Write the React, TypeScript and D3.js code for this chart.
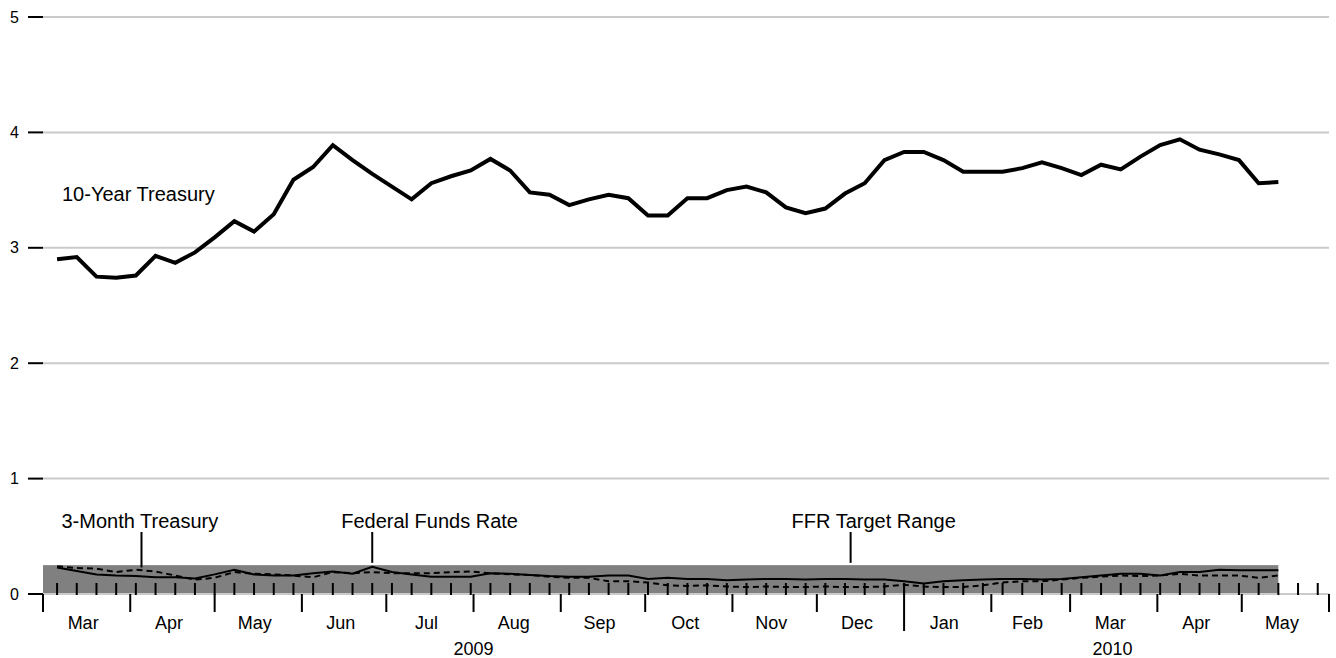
import React, { useEffect, useRef } from 'react';
import * as d3 from 'd3';

// weekly observations, Fridays from 6 Mar 2009
const firstWeek = new Date(2009, 2, 6);

const tenYear = [
  2.90, 2.92, 2.75, 2.74, 2.76, 2.93, 2.87, 2.96, 3.09, 3.23,
  3.14, 3.29, 3.59, 3.70, 3.89, 3.76, 3.64, 3.53, 3.42, 3.56,
  3.62, 3.67, 3.77, 3.67, 3.48, 3.46, 3.37, 3.42, 3.46, 3.43,
  3.28, 3.28, 3.43, 3.43, 3.50, 3.53, 3.48, 3.35, 3.30, 3.34,
  3.47, 3.56, 3.76, 3.83, 3.83, 3.76, 3.66, 3.66, 3.66, 3.69,
  3.74, 3.69, 3.63, 3.72, 3.68, 3.79, 3.89, 3.94, 3.85, 3.81,
  3.76, 3.56, 3.57
];

const fedFunds = [
  0.23, 0.20, 0.17, 0.16, 0.155, 0.145, 0.145, 0.135, 0.17, 0.21,
  0.17, 0.16, 0.16, 0.18, 0.195, 0.175, 0.235, 0.19, 0.17, 0.15,
  0.15, 0.15, 0.18, 0.175, 0.165, 0.155, 0.15, 0.15, 0.16, 0.16,
  0.13, 0.14, 0.13, 0.13, 0.12, 0.125, 0.13, 0.13, 0.125, 0.13,
  0.13, 0.125, 0.125, 0.11, 0.09, 0.11, 0.12, 0.125, 0.13, 0.13,
  0.125, 0.13, 0.145, 0.16, 0.175, 0.175, 0.16, 0.19, 0.19, 0.21,
  0.205, 0.205, 0.205
];

const threeMonth = [
  0.24, 0.225, 0.22, 0.19, 0.21, 0.195, 0.16, 0.125, 0.14, 0.19,
  0.175, 0.17, 0.16, 0.145, 0.19, 0.18, 0.19, 0.18, 0.18, 0.18,
  0.19, 0.195, 0.18, 0.17, 0.165, 0.15, 0.14, 0.14, 0.11, 0.11,
  0.10, 0.075, 0.07, 0.075, 0.065, 0.06, 0.065, 0.06, 0.06, 0.065,
  0.06, 0.06, 0.065, 0.08, 0.065, 0.06, 0.06, 0.075, 0.10, 0.11,
  0.11, 0.125, 0.14, 0.15, 0.16, 0.155, 0.16, 0.175, 0.16, 0.16,
  0.16, 0.14, 0.16
];

const targetRange = [0, 0.25];
const yTicks = [0, 1, 2, 3, 4, 5];
const dateStart = new Date(2009, 2, 1);
const dateEnd = new Date(2010, 5, 1);

const annotations = [
  { label: '3-Month Treasury', date: new Date(2009, 3, 5), value: 0.23 },
  { label: 'Federal Funds Rate', date: new Date(2009, 5, 26), value: 0.27 },
  { label: 'FFR Target Range', date: new Date(2009, 11, 13), value: 0.27 }
];
const annotationDx = [-80, -31, -59];

function App() {
  const svgRef = useRef<SVGSVGElement>(null);

  useEffect(() => {
    document.body.style.margin = '0';
    const svg = d3.select(svgRef.current);
    svg.selectAll('*').remove();

    const width = 1336;
    const height = 658;
    const font = '"Liberation Sans", Arial, Helvetica, sans-serif';

    const dates = tenYear.map((_, i) => d3.timeWeek.offset(firstWeek, i));

    const x = d3.scaleTime().domain([dateStart, dateEnd]).range([43, 1329]);
    const y = d3.scaleLinear().domain([0, 5]).range([594, 17]);

    svg.attr('width', width).attr('height', height).style('font-family', font);

    // FFR target band
    svg.append('rect')
      .attr('x', x.range()[0])
      .attr('y', y(targetRange[1]))
      .attr('width', x(dates[dates.length - 1]) - x.range()[0])
      .attr('height', y(targetRange[0]) - y(targetRange[1]))
      .attr('fill', '#808080');

    // grid lines
    svg.selectAll('.grid')
      .data(yTicks)
      .enter()
      .append('line')
      .attr('x1', x.range()[0])
      .attr('x2', x.range()[1])
      .attr('y1', d => y(d))
      .attr('y2', d => y(d))
      .attr('stroke', '#cacaca')
      .attr('stroke-width', 2);

    // y ticks + labels
    svg.selectAll('.ytick')
      .data(yTicks)
      .enter()
      .append('line')
      .attr('x1', 28)
      .attr('x2', x.range()[0])
      .attr('y1', d => y(d))
      .attr('y2', d => y(d))
      .attr('stroke', '#000')
      .attr('stroke-width', 2);

    svg.selectAll('.ylabel')
      .data(yTicks)
      .enter()
      .append('text')
      .attr('x', 19)
      .attr('y', d => y(d))
      .attr('dy', '0.35em')
      .attr('text-anchor', 'end')
      .attr('font-size', 16)
      .text(d => d);

    // weekly ticks
    const weeks = d3.timeFriday.range(dateStart, dateEnd);
    svg.selectAll('.wtick')
      .data(weeks)
      .enter()
      .append('line')
      .attr('x1', d => x(d))
      .attr('x2', d => x(d))
      .attr('y1', y(0) - 11)
      .attr('y2', y(0) + 1)
      .attr('stroke', '#000')
      .attr('stroke-width', 2);

    // month ticks
    const months = d3.timeMonth.range(dateStart, d3.timeDay.offset(dateEnd, 1));
    svg.selectAll('.mtick')
      .data(months)
      .enter()
      .append('line')
      .attr('x1', d => x(d))
      .attr('x2', d => x(d))
      .attr('y1', d => (d.getMonth() === 0 ? y(0) - 11 : y(0)))
      .attr('y2', d => (d.getMonth() === 0 ? y(0) + 37 : y(0) + 18))
      .attr('stroke', '#000')
      .attr('stroke-width', 2);

    const monthFmt = d3.timeFormat('%b');
    svg.selectAll('.mlabel')
      .data(months.slice(0, -1))
      .enter()
      .append('text')
      .attr('x', d => x(d) + (x(d3.timeMonth.offset(d, 1)) - x(d)) * 0.46)
      .attr('y', 629)
      .attr('text-anchor', 'middle')
      .attr('font-size', 18)
      .text(d => monthFmt(d));

    // year labels
    const years = [dateStart, new Date(2010, 0, 1)];
    svg.selectAll('.year')
      .data(years)
      .enter()
      .append('text')
      .attr('x', (d, i) => {
        const end = i < years.length - 1 ? years[i + 1] : dateEnd;
        return (x(d) + x(end)) / 2 - (i === years.length - 1 ? 4 : 0);
      })
      .attr('y', 655)
      .attr('text-anchor', 'middle')
      .attr('font-size', 18)
      .text(d => d.getFullYear());

    // lines
    const line = d3.line<number>()
      .x((_, i) => x(dates[i]))
      .y(d => y(d));

    svg.append('path')
      .datum(threeMonth)
      .attr('d', line)
      .attr('fill', 'none')
      .attr('stroke', '#000')
      .attr('stroke-width', 2)
      .attr('stroke-dasharray', '6,4');

    svg.append('path')
      .datum(fedFunds)
      .attr('d', line)
      .attr('fill', 'none')
      .attr('stroke', '#000')
      .attr('stroke-width', 2);

    svg.append('path')
      .datum(tenYear)
      .attr('d', line)
      .attr('fill', 'none')
      .attr('stroke', '#000')
      .attr('stroke-width', 4);

    svg.append('text')
      .attr('x', 62)
      .attr('y', 201)
      .attr('font-size', 20)
      .text('10-Year Treasury');

    // annotations
    const pointerTop = 532;
    const ann = svg.selectAll('.ann')
      .data(annotations)
      .enter()
      .append('g');

    ann.append('line')
      .attr('x1', d => x(d.date))
      .attr('x2', d => x(d.date))
      .attr('y1', pointerTop)
      .attr('y2', d => y(d.value))
      .attr('stroke', '#000')
      .attr('stroke-width', 2);

    ann.append('text')
      .attr('x', (d, i) => x(d.date) + annotationDx[i])
      .attr('y', pointerTop - 4)
      .attr('font-size', 20)
      .text(d => d.label);
  }, []);

  return (
    <svg ref={svgRef} style={{ display: 'block', position: 'absolute', left: 0, top: 0 }}></svg>
  );
}

export default App;
